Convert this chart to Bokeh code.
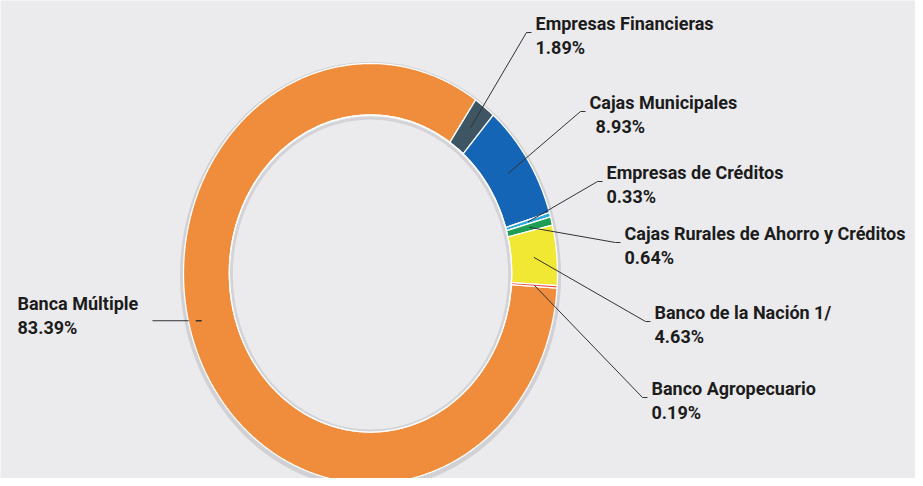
import numpy as np
from bokeh.plotting import figure
from bokeh.models import Range1d, ColumnDataSource
from bokeh.core.properties import value
from bokeh.embed import file_html
from bokeh.resources import INLINE

# ---- data ----
categories = ["Banca Múltiple", "Empresas Financieras", "Cajas Municipales",
              "Empresas de Créditos", "Cajas Rurales de Ahorro y Créditos",
              "Banco de la Nación 1/", "Banco Agropecuario"]
shares = [83.39, 1.89, 8.93, 0.33, 0.64, 4.63, 0.19]
pct_labels = ["83.39%", "1.89%", "8.93%", "0.33%", "0.64%", "4.63%", "0.19%"]
colors = ["#F08D3C", "#3E5563", "#1565B7", "#2EA9E0", "#1E9E55", "#F0E833", "#E94B3C"]

# ---- layout (pixel coordinates) ----
W, H = 915, 478
BG = "#EBEBED"
cx, cy, rx, ry, inner = 370, 273, 187, 210, 0.755
start_deg = -4.0  # first slice start, clockwise
# label anchor: (x, baseline y of name line, pct x-offset)
label_pos = [(17, 308, 0), (535, 28, 0), (589, 107, 6), (606, 177, 0),
             (624, 238, 0), (654, 317, 0), (651, 393, 0)]
TEXT_SHIFT = -5

p = figure(width=W, height=H, output_backend="svg", toolbar_location=None,
           x_range=Range1d(0, W), y_range=Range1d(H, 0),
           min_border=0, background_fill_color=BG, border_fill_color=BG)
p.axis.visible = False
p.grid.visible = False
p.outline_line_color = None

# shadow behind ring
p.ellipse(x=cx, y=cy + 2, width=2 * rx + 7, height=2 * ry + 7,
          fill_color="#c6c6cb", fill_alpha=0.7, line_color=None)
# hole
p.ellipse(x=cx, y=cy, width=2 * rx * inner, height=2 * ry * inner,
          fill_color=BG, line_color=None)

# slices
vals = np.array(shares, dtype=float)
cum = np.concatenate([[0], np.cumsum(vals)]) / vals.sum() * 360.0
a0 = np.radians(start_deg - cum[:-1])
a1 = np.radians(start_deg - cum[1:])
xs, ys, mids = [], [], []
for s, e in zip(a0, a1):
    n = max(4, int(abs(e - s) / np.radians(0.5)))
    t = np.linspace(s, e, n)
    ox = cx + rx * np.cos(t)
    oy = cy - ry * np.sin(t)
    ix = cx + rx * inner * np.cos(t[::-1])
    iy = cy - ry * inner * np.sin(t[::-1])
    xs.append(list(np.concatenate([ox, ix])))
    ys.append(list(np.concatenate([oy, iy])))
    mids.append((s + e) / 2)
p.patches(xs=xs, ys=ys, fill_color=colors, line_color="white", line_width=1.3)

# inner edge shadow
p.ellipse(x=cx, y=cy + 1, width=2 * rx * inner - 4, height=2 * ry * inner - 4,
          fill_color=None, line_color="#cdcdd2", line_width=3, line_alpha=0.8)
p.ellipse(x=cx, y=cy, width=2 * rx * inner, height=2 * ry * inner,
          fill_color=None, line_color="white", line_width=1.3)

# leader lines
mid_r = (1 + inner) / 2
for i, (lx, ly, off) in enumerate(label_pos):
    ang = mids[i]
    if i == 0:
        ang = np.radians(-166)
        ax = cx + rx * 0.93 * np.cos(ang)
        ay = cy - ry * 0.93 * np.sin(ang)
        p.line(x=[152, ax - 13], y=[ay, ay], line_color="#333333", line_width=1)
        p.line(x=[ax - 6, ax], y=[ay, ay], line_color="#333333", line_width=1.5)
        continue
    ax = cx + rx * mid_r * np.cos(ang)
    ay = cy - ry * mid_r * np.sin(ang)
    ex, ey = lx - 9, ly + 4
    p.line(x=[ax, ex, lx - 4], y=[ay, ey, ey], line_color="#333333", line_width=1)

# labels
src = ColumnDataSource(dict(
    x=[lp[0] for lp in label_pos],
    y=[lp[1] + TEXT_SHIFT for lp in label_pos],
    px=[lp[0] + lp[2] for lp in label_pos],
    py=[lp[1] + 24 + TEXT_SHIFT for lp in label_pos],
    name=categories, pct=pct_labels))
common = dict(text_font=value("Roboto"), text_font_style="bold",
              text_font_size="18px", text_color="#1c1c1c",
              text_baseline="alphabetic", text_align="left")
p.text(x="x", y="y", text="name", source=src, **common)
p.text(x="px", y="py", text="pct", source=src, **common)

open("out.html", "w").write(file_html(p, INLINE))
